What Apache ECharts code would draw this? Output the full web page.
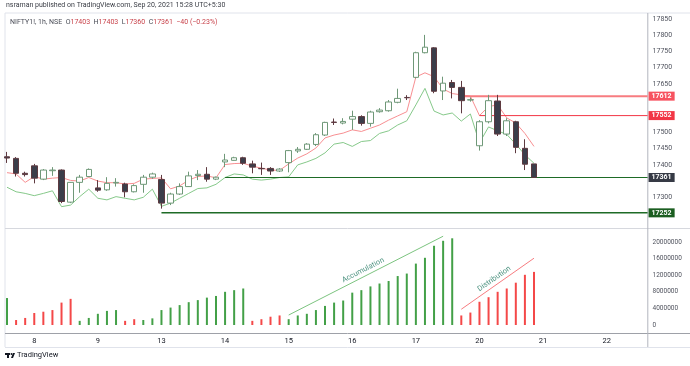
<!DOCTYPE html>
<html><head><meta charset="utf-8">
<script src="https://cdn.jsdelivr.net/npm/echarts@6/dist/echarts.min.js"></script>
<style>html,body{margin:0;padding:0;background:#fff}#c{width:690px;height:366px}</style>
</head><body><div id="c"></div><script>
// ---- data ----
const tradingDays = ['7','8','9','13','14','15','16','17','20','21','22'];
const sessionHours = ['09:15','10:15','11:15','12:15','13:15','14:15','15:15'];
const opens  = [17425,17420,17374,17397,17356,17382,17384,17285,17346,17364,17329,17323,17344,17341,17317,17340,17362,17355,17282,17310,17333,17367,17371,17356,17409,17414,17422,17403,17389,17389,17381,17407,17443,17448,17463,17492,17532,17529,17541,17549,17528,17564,17567,17593,17608,17670,17746,17761,17628,17654,17639,17600,17459,17533,17597,17495,17533,17451,17403];
const closes = [17421,17374,17370,17359,17384,17384,17287,17346,17362,17386,17322,17343,17346,17317,17336,17362,17372,17282,17310,17333,17366,17371,17356,17362,17415,17422,17405,17393,17388,17381,17387,17444,17448,17464,17493,17531,17531,17534,17549,17528,17563,17569,17594,17605,17607,17746,17763,17627,17652,17639,17598,17601,17533,17598,17495,17536,17454,17402,17361];
const highs  = [17440,17424,17379,17403,17387,17393,17386,17347,17369,17389,17353,17362,17359,17345,17340,17369,17376,17369,17314,17343,17379,17384,17393,17364,17434,17425,17425,17413,17407,17393,17390,17446,17455,17467,17498,17533,17543,17544,17567,17553,17567,17575,17600,17635,17615,17749,17801,17763,17672,17662,17659,17608,17538,17616,17616,17544,17536,17479,17403];
const lows   = [17406,17364,17364,17343,17353,17366,17282,17282,17314,17363,17317,17320,17333,17300,17315,17314,17357,17265,17276,17307,17332,17353,17348,17353,17393,17413,17400,17374,17369,17369,17378,17377,17437,17446,17458,17489,17523,17525,17508,17521,17518,17561,17564,17590,17600,17667,17744,17621,17600,17605,17559,17595,17444,17528,17489,17489,17436,17384,17360];
const upperBand = [17376,17372,17346,17364,17356,17359,17361,17352,17350,17361,17350,17345,17345,17341,17343,17356,17358,17360,17326,17335,17353,17364,17366,17360,17401,17404,17405,17396,17390,17384,17383,17403,17421,17434,17452,17483,17492,17498,17508,17503,17513,17523,17538,17551,17564,17671,17684,17672,17634,17620,17616,17612,17552,17580,17585,17545,17529,17497,17457];
const lowerBand = [17331,17317,17312,17305,17312,17320,17271,17276,17302,17325,17297,17292,17302,17297,17292,17300,17325,17272,17282,17297,17312,17327,17329,17340,17361,17372,17369,17356,17353,17356,17361,17363,17400,17409,17420,17437,17464,17469,17457,17472,17475,17497,17505,17523,17536,17585,17636,17566,17554,17560,17535,17557,17468,17517,17505,17494,17464,17431,17405];
const volumes = [6.5,1.2,1.7,2.9,3.2,3.6,5.4,6.3,1.0,1.7,2.7,3.4,3.6,1.0,1.4,1.2,1.6,3.6,4.2,4.8,5.5,6.0,6.6,7.0,8.0,8.4,8.8,1.0,1.4,2.0,2.3,1.4,2.3,2.7,3.6,4.6,5.4,5.9,7.8,8.4,9.3,10.0,10.6,11.8,12.4,14.8,16.2,19.1,20.3,20.9,2.3,3.0,5.6,6.7,8.0,8.8,10.2,12.1,12.8];
const volumeUp = [1,0,0,0,0,0,0,0,1,1,1,1,1,0,0,1,1,1,1,1,1,1,1,1,1,1,1,0,0,0,0,1,1,1,1,1,1,1,1,1,1,1,1,1,1,1,1,1,1,1,0,0,0,0,0,0,0,0,0];
const levelPrices = [17612, 17552, 17361, 17252];
const levelStartBar = [50, 52, 24, 17];
const accumulationLine = [[31, 2.4], [48, 21.4]];
const distributionLine = [[50, 3.8], [58, 16.1]];
const priceTicks = {min: 17200, max: 17868.5, step: 50};
const volumeTicks = {min: 0, max: 22.9, step: 4};
const headerText = 'nsraman published on TradingView.com, Sep 20, 2021 15:28 UTC+5:30';

// ---- build ----
const M = 1e6;
let allSlots = [];
tradingDays.forEach(d => sessionHours.forEach(h => allSlots.push(d + ' ' + h)));
const categories = allSlots.slice(4, 4 + 71);
const nSlots = categories.length;
const candleData = opens.map((o, i) => [o, closes[i], lows[i], highs[i]]);
const volData = volumes.map(v => v * M);

const levelStyles = [
  {line: '#f77c80', w: 2, box: '#f7525f'},
  {line: '#f23645', w: 1, box: '#f23645'},
  {line: '#1e6b26', w: 1, box: '#363a45'},
  {line: '#1e6b26', w: 1.5, box: '#1b5e20'}
];

const FONT = 'Roboto, "Noto Sans", sans-serif';
const gl = 2.46, gr = 690 - 647.56;

const levelSeries = levelPrices.map((p, i) => ({
  type: 'line', xAxisIndex: 2, yAxisIndex: 0, symbol: 'none', silent: true,
  data: [[levelStartBar[i], p], [nSlots - 0.5, p]],
  lineStyle: {color: levelStyles[i].line, width: levelStyles[i].w},
  endLabel: {show: true, formatter: String(p), distance: 1, color: '#fff',
    backgroundColor: levelStyles[i].box, padding: [1, 3, 1, 3], fontSize: 7,
    fontFamily: FONT, fontWeight: 'bold'},
  z: 3
}));

const chart = echarts.init(document.getElementById('c'), null, {renderer: 'canvas'});
chart.setOption({
  animation: false,
  backgroundColor: '#fff',
  textStyle: {fontFamily: FONT},
  grid: [
    {left: gl, right: gr, top: 13, height: 216.7},
    {left: gl, right: gr, top: 230, height: 95}
  ],
  xAxis: [
    {type: 'category', gridIndex: 0, data: categories, boundaryGap: true,
      axisLine: {show: false}, axisTick: {show: false}, axisLabel: {show: false}, splitLine: {show: false}},
    {type: 'category', gridIndex: 1, data: categories, boundaryGap: true, offset: 8,
      axisLine: {show: false}, axisTick: {show: false}, splitLine: {show: false},
      axisLabel: {fontSize: 7.5, color: '#131722', margin: 4, fontFamily: FONT,
        interval: (idx, val) => val.endsWith('09:15'),
        formatter: v => v.split(' ')[0]}},
    {type: 'value', gridIndex: 0, min: -0.5, max: nSlots - 0.5, show: false},
    {type: 'value', gridIndex: 1, min: -0.5, max: nSlots - 0.5, show: false}
  ],
  yAxis: [
    {type: 'value', gridIndex: 0, position: 'right', min: priceTicks.min, max: priceTicks.max,
      interval: priceTicks.step, splitLine: {show: false}, axisLine: {show: false}, axisTick: {show: false},
      axisLabel: {fontSize: 7, color: '#50535e', margin: 5, showMinLabel: false, showMaxLabel: false,
        formatter: v => levelPrices.some(p => Math.abs(p - v) < 30) ? '' : String(v)}},
    {type: 'value', gridIndex: 1, position: 'right', min: volumeTicks.min * M, max: volumeTicks.max * M,
      interval: volumeTicks.step * M, splitLine: {show: false}, axisLine: {show: false}, axisTick: {show: false},
      axisLabel: {fontSize: 6.5, color: '#50535e', margin: 5, showMaxLabel: false, formatter: v => String(v)}}
  ],
  series: [
    {type: 'line', xAxisIndex: 0, yAxisIndex: 0, data: upperBand, symbol: 'none',
      lineStyle: {color: '#f88f92', width: 1}, z: 1},
    {type: 'line', xAxisIndex: 0, yAxisIndex: 0, data: lowerBand, symbol: 'none',
      lineStyle: {color: '#86c98a', width: 1}, z: 1},
    ...levelSeries,
    {type: 'candlestick', xAxisIndex: 0, yAxisIndex: 0, data: candleData, barWidth: 6,
      itemStyle: {color: '#ffffff', color0: '#3b3e4a', borderColor: '#6f9878', borderColor0: '#5e3a40', borderWidth: 1},
      z: 4},
    {type: 'bar', xAxisIndex: 1, yAxisIndex: 1, data: volData, barWidth: 2,
      itemStyle: {color: p => volumeUp[p.dataIndex] ? '#43a047' : '#f44848'},
      markLine: {
        silent: true, symbol: ['none', 'none'], animation: false,
        data: [
          [{coord: [accumulationLine[0][0], accumulationLine[0][1] * M], lineStyle: {color: '#7cc47f', width: 1, type: 'solid'},
             label: {show: true, position: 'insideMiddleTop', formatter: 'Accumulation', color: '#4f9482', fontSize: 7.5, distance: 2}},
           {coord: [accumulationLine[1][0], accumulationLine[1][1] * M]}],
          [{coord: [distributionLine[0][0], distributionLine[0][1] * M], lineStyle: {color: '#f77c80', width: 1, type: 'solid'},
             label: {show: true, position: 'insideMiddleTop', formatter: 'Distribution', color: '#4f9482', fontSize: 7.5, distance: 2}},
           {coord: [distributionLine[1][0], distributionLine[1][1] * M]}]
        ]
      }}
  ],
  graphic: [
    {type: 'line', shape: {x1: 5, y1: 13, x2: 690, y2: 13}, style: {stroke: '#e0e3eb', lineWidth: 1}, silent: true},
    {type: 'line', shape: {x1: 5, y1: 13, x2: 5, y2: 347}, style: {stroke: '#e0e3eb', lineWidth: 1}, silent: true},
    {type: 'line', shape: {x1: 5, y1: 228.5, x2: 690, y2: 228.5}, style: {stroke: '#d6d8de', lineWidth: 1}, silent: true},
    {type: 'line', shape: {x1: 5, y1: 333.5, x2: 690, y2: 333.5}, style: {stroke: '#9ea1a8', lineWidth: 1}, silent: true},
    {type: 'line', shape: {x1: 5, y1: 347.5, x2: 690, y2: 347.5}, style: {stroke: '#e0e3eb', lineWidth: 1}, silent: true},
    {type: 'line', shape: {x1: 647.8, y1: 13, x2: 647.8, y2: 347}, style: {stroke: '#b2b5be', lineWidth: 1}, silent: true},
    {type: 'text', left: 6, top: 2, silent: true,
      style: {text: headerText, fontSize: 7, fill: '#3a3d45', fontFamily: FONT}},
    {type: 'text', left: 10, top: 19, silent: true,
      style: {text: '{g|NIFTY1!, 1h, NSE}  {g|O}{r|17403}  {g|H}{r|17403}  {g|L}{r|17360}  {g|C}{r|17361}  {r|−40 (−0.23%)}',
        fontSize: 7, fontFamily: FONT,
        rich: {g: {fill: '#4a4d57', fontSize: 7, fontFamily: FONT}, r: {fill: '#c8424a', fontSize: 7, fontFamily: FONT}}}},
    {type: 'group', left: 5, top: 353, silent: true, children: [
      {type: 'rect', shape: {x: 0, y: 0, width: 5, height: 2}, style: {fill: '#131722'}},
      {type: 'rect', shape: {x: 2, y: 0, width: 2, height: 5}, style: {fill: '#131722'}},
      {type: 'circle', shape: {cx: 6.5, cy: 1, r: 1}, style: {fill: '#131722'}},
      {type: 'polygon', shape: {points: [[8, 0], [10, 0], [8, 5], [6, 5]]}, style: {fill: '#131722'}}
    ]},
    {type: 'text', left: 17, top: 351, silent: true,
      style: {text: 'TradingView', fontSize: 7.5, fill: '#131722', fontFamily: FONT}}
  ]
});
</script></body></html>
